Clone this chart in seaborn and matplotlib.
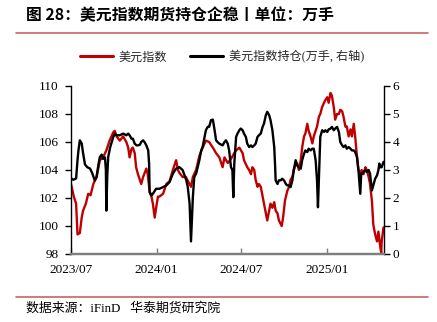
import matplotlib
matplotlib.use("Agg")
import matplotlib.pyplot as plt
import matplotlib.dates as mdates
from matplotlib.lines import Line2D
import numpy as np
import pandas as pd
import seaborn as sns

# US dollar index (left axis)
dxy_dates = [
    "2023-07-01", "2023-07-07", "2023-07-12", "2023-07-15", "2023-07-20", "2023-07-24", "2023-07-27",
    "2023-08-02", "2023-08-07", "2023-08-12", "2023-08-18", "2023-08-25", "2023-09-01", "2023-09-08",
    "2023-09-15", "2023-09-22", "2023-09-30", "2023-10-03", "2023-10-07", "2023-10-14", "2023-10-21",
    "2023-10-28", "2023-11-01", "2023-11-04", "2023-11-08", "2023-11-11", "2023-11-15", "2023-11-18",
    "2023-11-22", "2023-11-29", "2023-12-03", "2023-12-10", "2023-12-13", "2023-12-17", "2023-12-21",
    "2023-12-24", "2023-12-28", "2023-12-31", "2024-01-04", "2024-01-07", "2024-01-15", "2024-01-22",
    "2024-01-29", "2024-02-05", "2024-02-12", "2024-02-16", "2024-02-19", "2024-02-26", "2024-03-04",
    "2024-03-12", "2024-03-15", "2024-03-19", "2024-03-26", "2024-04-02", "2024-04-09", "2024-04-16",
    "2024-04-23", "2024-05-01", "2024-05-08", "2024-05-15", "2024-05-22", "2024-05-26", "2024-06-02",
    "2024-06-09", "2024-06-16", "2024-06-20", "2024-06-27", "2024-07-04", "2024-07-07", "2024-07-14",
    "2024-07-18", "2024-07-22", "2024-07-25", "2024-07-29", "2024-08-01", "2024-08-05", "2024-08-08",
    "2024-08-12", "2024-08-16", "2024-08-19", "2024-08-23", "2024-08-26", "2024-08-30", "2024-09-02",
    "2024-09-06", "2024-09-10", "2024-09-13", "2024-09-17", "2024-09-20", "2024-09-26", "2024-09-29",
    "2024-10-03", "2024-10-08", "2024-10-12", "2024-10-15", "2024-10-19", "2024-10-22", "2024-10-26",
    "2024-10-29", "2024-11-02", "2024-11-06", "2024-11-09", "2024-11-13", "2024-11-16", "2024-11-20",
    "2024-11-23", "2024-11-27", "2024-12-01", "2024-12-04", "2024-12-08", "2024-12-11", "2024-12-15",
    "2024-12-18", "2024-12-22", "2024-12-26", "2024-12-29", "2025-01-02", "2025-01-05", "2025-01-09",
    "2025-01-12", "2025-01-16", "2025-01-19", "2025-01-23", "2025-01-27", "2025-01-30", "2025-02-03",
    "2025-02-06", "2025-02-10", "2025-02-13", "2025-02-17", "2025-02-21", "2025-02-24", "2025-02-28",
    "2025-03-03", "2025-03-07", "2025-03-10", "2025-03-14", "2025-03-17", "2025-03-21", "2025-03-25",
    "2025-03-28", "2025-04-01", "2025-04-04", "2025-04-08", "2025-04-11", "2025-04-15", "2025-04-19",
    "2025-04-22", "2025-04-26", "2025-04-28", "2025-04-29", "2025-05-03",
]
dxy_values = [
    103.0, 102.1, 101.6, 99.4, 99.5, 100.6, 101.1,
    101.6, 102.3, 102.2, 103.0, 103.5, 104.7, 104.9,
    105.4, 106.1, 106.7, 106.8, 106.4, 106.1, 106.4,
    106.0, 105.6, 104.9, 105.5, 105.6, 105.2, 104.2,
    103.7, 103.0, 103.5, 104.1, 103.7, 102.5, 102.1,
    101.6, 100.6, 101.3, 102.1, 102.1, 102.3, 103.0,
    103.2, 104.0, 104.7, 104.0, 103.8, 103.5, 103.5,
    103.0, 102.8, 103.5, 104.0, 105.0, 105.6, 106.1,
    106.0, 105.6, 105.2, 104.9, 104.2, 104.9, 104.5,
    104.8, 105.2, 105.4, 105.6, 105.2, 104.7, 104.2,
    104.0, 103.7, 104.2, 104.0, 103.3, 102.8, 103.0,
    102.8, 102.1, 101.6, 100.9, 100.4, 101.1, 101.6,
    101.3, 101.7, 101.1, 100.9, 100.4, 100.0, 100.6,
    101.8, 102.5, 102.8, 103.3, 103.5, 104.0, 104.4,
    104.5, 104.0, 104.7, 105.6, 106.4, 106.6, 107.3,
    106.8, 106.4, 105.9, 106.4, 106.8, 107.1, 107.8,
    108.0, 108.5, 108.8, 109.0, 109.2, 108.8, 109.5,
    109.3, 108.5, 107.6, 108.0, 108.0, 108.3, 108.2,
    107.8, 107.1, 107.1, 106.4, 106.9, 106.4, 107.3,
    106.4, 104.9, 104.0, 103.8, 104.0, 103.7, 104.2,
    104.0, 103.5, 103.0, 101.8, 100.1, 99.4, 98.9,
    99.6, 98.5, 98.1, 98.9, 99.9,
]

# Dollar index futures open interest, 10k lots (right axis)
oi_dates = [
    "2023-07-01", "2023-07-06", "2023-07-12", "2023-07-15", "2023-07-17", "2023-07-20", "2023-07-24",
    "2023-07-27", "2023-07-31", "2023-08-05", "2023-08-11", "2023-08-16", "2023-08-21", "2023-08-25",
    "2023-08-29", "2023-09-01", "2023-09-05", "2023-09-08", "2023-09-12", "2023-09-14", "2023-09-15",
    "2023-09-17", "2023-09-19", "2023-09-23", "2023-09-30", "2023-10-03", "2023-10-07", "2023-10-14",
    "2023-10-21", "2023-10-28", "2023-11-01", "2023-11-04", "2023-11-08", "2023-11-11", "2023-11-15",
    "2023-11-19", "2023-11-22", "2023-11-26", "2023-11-29", "2023-12-03", "2023-12-06", "2023-12-10",
    "2023-12-14", "2023-12-16", "2023-12-17", "2023-12-21", "2023-12-24", "2023-12-31", "2024-01-07",
    "2024-01-15", "2024-01-22", "2024-01-29", "2024-02-05", "2024-02-12", "2024-02-19", "2024-02-26",
    "2024-03-05", "2024-03-08", "2024-03-12", "2024-03-15", "2024-03-19", "2024-03-22", "2024-03-26",
    "2024-04-02", "2024-04-06", "2024-04-09", "2024-04-16", "2024-04-20", "2024-04-23", "2024-04-27",
    "2024-05-01", "2024-05-04", "2024-05-08", "2024-05-11", "2024-05-15", "2024-05-22", "2024-05-26",
    "2024-05-29", "2024-06-02", "2024-06-05", "2024-06-09", "2024-06-12", "2024-06-14", "2024-06-16",
    "2024-06-20", "2024-06-23", "2024-06-27", "2024-06-30", "2024-07-04", "2024-07-07", "2024-07-11",
    "2024-07-14", "2024-07-18", "2024-07-22", "2024-07-25", "2024-07-29", "2024-08-01", "2024-08-05",
    "2024-08-08", "2024-08-12", "2024-08-16", "2024-08-19", "2024-08-23", "2024-08-26", "2024-08-30",
    "2024-09-02", "2024-09-06", "2024-09-10", "2024-09-12", "2024-09-13", "2024-09-17", "2024-09-20",
    "2024-09-24", "2024-09-27", "2024-10-01", "2024-10-05", "2024-10-08", "2024-10-12", "2024-10-15",
    "2024-10-19", "2024-10-22", "2024-10-26", "2024-10-29", "2024-11-02", "2024-11-06", "2024-11-09",
    "2024-11-13", "2024-11-16", "2024-11-20", "2024-11-23", "2024-11-27", "2024-12-01", "2024-12-04",
    "2024-12-08", "2024-12-11", "2024-12-13", "2024-12-16", "2024-12-18", "2024-12-22", "2024-12-26",
    "2024-12-29", "2025-01-02", "2025-01-05", "2025-01-09", "2025-01-12", "2025-01-16", "2025-01-19",
    "2025-01-23", "2025-01-27", "2025-01-30", "2025-02-03", "2025-02-06", "2025-02-10", "2025-02-13",
    "2025-02-17", "2025-02-21", "2025-02-24", "2025-02-28", "2025-03-03", "2025-03-07", "2025-03-10",
    "2025-03-14", "2025-03-16", "2025-03-18", "2025-03-21", "2025-03-25", "2025-03-28", "2025-04-01",
    "2025-04-04", "2025-04-08", "2025-04-11", "2025-04-15", "2025-04-19", "2025-04-22", "2025-04-24",
    "2025-04-26", "2025-04-29", "2025-05-03",
]
oi_values = [
    2.70, 2.65, 2.70, 3.35, 3.70, 4.06, 3.95,
    3.60, 3.20, 3.10, 3.05, 2.87, 2.63, 2.75,
    3.20, 3.46, 3.55, 3.40, 3.45, 3.00, 1.55,
    2.80, 3.46, 3.80, 4.18, 4.30, 4.24, 4.24,
    4.30, 4.24, 4.30, 4.24, 4.12, 4.12, 3.94,
    3.88, 3.88, 3.90, 4.00, 4.06, 4.00, 3.88,
    3.70, 3.20, 2.20, 2.09, 2.15, 2.33, 2.33,
    2.39, 2.45, 2.57, 2.87, 3.05, 3.10, 3.00,
    2.63, 2.40, 1.80, 0.45, 2.03, 2.75, 2.87,
    3.35, 3.70, 3.82, 4.42, 4.54, 4.54, 4.78,
    4.80, 4.50, 4.06, 4.00, 3.94, 3.88, 4.00,
    4.06, 3.94, 3.70, 3.10, 3.00, 2.03, 3.20,
    4.18, 4.30, 4.42, 4.48, 4.42, 4.30, 4.18,
    3.94, 3.82, 3.88, 3.82, 3.88, 3.94, 4.18,
    4.24, 4.30, 4.54, 4.66, 4.96, 5.08, 4.96,
    4.78, 4.42, 3.82, 3.10, 2.63, 2.50, 2.63,
    2.63, 2.69, 2.63, 2.50, 2.45, 2.45, 2.39,
    2.63, 3.00, 3.35, 3.17, 3.10, 3.05, 3.35,
    3.58, 3.70, 3.64, 3.76, 3.70, 3.76, 3.76,
    3.35, 2.63, 1.67, 3.20, 4.18, 4.42, 4.36,
    4.42, 4.36, 4.45, 4.48, 4.54, 4.42, 4.48,
    4.54, 4.36, 4.00, 3.88, 3.82, 3.88, 3.76,
    3.82, 3.76, 3.70, 3.70, 3.64, 3.46, 3.00,
    2.15, 2.87, 2.87, 2.93, 3.00, 2.93, 3.00,
    2.87, 2.27, 2.45, 2.69, 2.81, 3.00, 3.23,
    3.10, 3.10, 3.29,
]

x_ticks = ["2023-07-01", "2024-01-01", "2024-07-01", "2025-01-01"]
left_ticks = [98, 100, 102, 104, 106, 108, 110]
right_ticks = [0, 1, 2, 3, 4, 5, 6]

title_text = "图 28：美元指数期货持仓企稳丨单位：万手"
source_text = "数据来源：iFinD   华泰期货研究院"
label_dxy = "美元指数"
label_oi = "美元指数持仓(万手, 右轴)"

dxy = pd.DataFrame({"date": pd.to_datetime(dxy_dates), "value": dxy_values})
oi = pd.DataFrame({"date": pd.to_datetime(oi_dates), "value": oi_values})

sns.set_style("white")
plt.rcParams["font.family"] = ["Liberation Serif", "Noto Sans CJK SC"]
plt.rcParams["axes.unicode_minus"] = False

RED = "#C00000"
BLACK = "#000000"

fig = plt.figure(figsize=(4.37, 3.22), dpi=100)
ax = fig.add_axes([71 / 437, 1 - 254 / 322, (384 - 71) / 437, (254 - 86) / 322])
ax2 = ax.twinx()

sns.lineplot(data=dxy, x="date", y="value", ax=ax, color=RED, linewidth=1.7, legend=False)
sns.lineplot(data=oi, x="date", y="value", ax=ax2, color=BLACK, linewidth=1.7, legend=False)

ax.set_xlim(pd.Timestamp("2023-07-01"), pd.Timestamp("2025-05-04"))
ax.set_ylim(98, 110)
ax2.set_ylim(0, 6)
ax.set_yticks(left_ticks)
ax2.set_yticks(right_ticks)
ax.set_xticks(pd.to_datetime(x_ticks))
ax.xaxis.set_major_formatter(mdates.DateFormatter("%Y/%m"))

for a in (ax, ax2):
    a.set_xlabel("")
    a.set_ylabel("")
    a.grid(False)
    a.spines["top"].set_visible(False)
    for s in ("left", "right"):
        a.spines[s].set_color("#000000")
        a.spines[s].set_linewidth(1.0)
    a.spines["bottom"].set_color("#7f7f7f")
    a.spines["bottom"].set_linewidth(1.6)
ax.spines["right"].set_visible(False)
ax2.spines["left"].set_visible(False)

ax.tick_params(axis="y", which="major", direction="out", length=4, width=1.0,
               color="#000000", pad=5, labelsize=9.5, left=True)
ax2.tick_params(axis="y", which="major", direction="out", length=4, width=1.0,
                color="#000000", pad=2, labelsize=9.5, right=True)
ax.tick_params(axis="x", which="major", direction="in", length=4, width=1.0,
               color="#7f7f7f", pad=7, labelsize=9.5, bottom=True)
for lbl in ax.get_xticklabels() + ax.get_yticklabels() + ax2.get_yticklabels():
    lbl.set_fontfamily("Liberation Serif")
    lbl.set_color("#000000")

# Header and footer
fig.text(26 / 437, 1 - 15 / 322, title_text, fontsize=11.4, fontweight="bold",
         family=["Noto Sans CJK SC"], ha="left", va="center", color="#000000")
fig.add_artist(Line2D([16 / 437, 428 / 437], [1 - 33 / 322, 1 - 33 / 322],
                      color="#C86464", linewidth=1.2, transform=fig.transFigure))
fig.add_artist(Line2D([16 / 437, 428 / 437], [1 - 297 / 322, 1 - 297 / 322],
                      color="#C86464", linewidth=1.2, transform=fig.transFigure))
fig.text(26 / 437, 1 - 308 / 322, source_text, fontsize=9.3,
         family=["Liberation Serif", "Noto Sans CJK SC"], ha="left", va="center", color="#000000")

handles = [
    Line2D([], [], color=RED, linewidth=2.2, label=label_dxy),
    Line2D([], [], color=BLACK, linewidth=2.2, label=label_oi),
]
fig.legend(handles=handles, loc="center", bbox_to_anchor=(222 / 437, 1 - 57 / 322), ncol=2,
           frameon=False, handlelength=2.7, handletextpad=0.5, columnspacing=1.9,
           prop={"family": ["Liberation Serif", "Noto Sans CJK SC"], "size": 8.7})

fig.savefig("out.png", dpi=100)
